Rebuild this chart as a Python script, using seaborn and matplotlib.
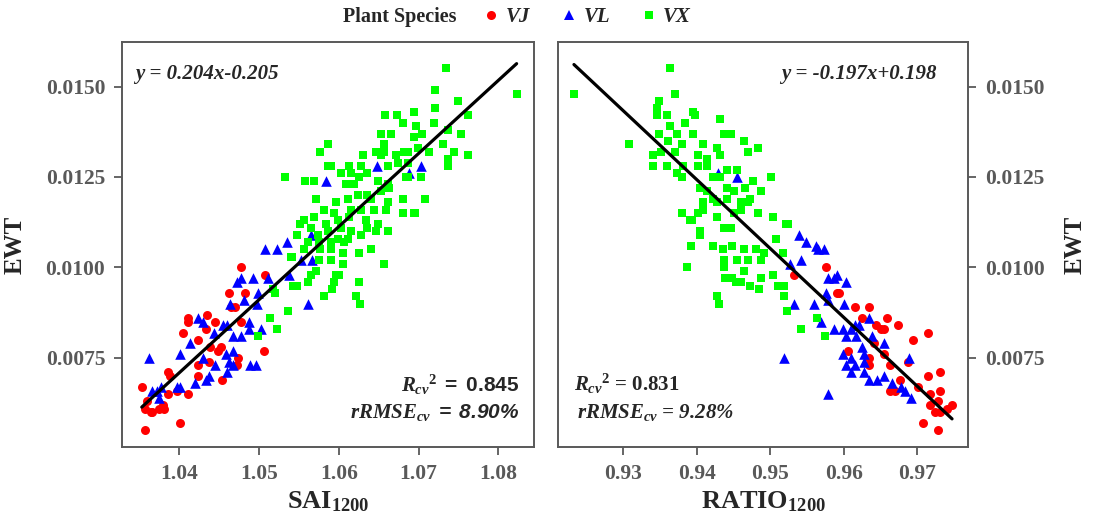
import numpy as np
import pandas as pd
import seaborn as sns
import matplotlib.pyplot as plt
from matplotlib.lines import Line2D
from matplotlib.ticker import FormatStrFormatter, MultipleLocator

# ---- data ----
species = ["VJ", "VL", "VX"]
colors = {"VJ": "#ff0000", "VL": "#0000ff", "VX": "#00ff00"}
markers = {"VJ": "o", "VL": "^", "VX": "s"}
sizes = {"VJ": 42, "VL": 58, "VX": 34}

# left panel: SAI1200 vs EWT
sai_vj_x = [1.0478, 1.0508, 1.0462, 1.0482, 1.0465, 1.0470, 1.0435, 1.0411, 1.0411, 1.0405,
            1.0433, 1.0445, 1.0477, 1.0423, 1.0439, 1.0452, 1.0449, 1.0506, 1.0437, 1.0424,
            1.0474, 1.0473, 1.0386, 1.0389, 1.0423, 1.0453, 1.0353, 1.0386, 1.0397, 1.0411,
            1.0360, 1.0357, 1.0364, 1.0366, 1.0379, 1.0381, 1.0374, 1.0401, 1.0357]
sai_vj_y = [0.0100, 0.0098, 0.0093, 0.0093, 0.0089, 0.0089, 0.0087, 0.0086, 0.0085, 0.0082,
            0.0083, 0.0085, 0.0085, 0.0080, 0.0078, 0.0078, 0.0077, 0.0077, 0.0074, 0.0073,
            0.0075, 0.0073, 0.0071, 0.0070, 0.0070, 0.0069, 0.0067, 0.0065, 0.0066, 0.0065,
            0.0063, 0.0061, 0.0060, 0.0060, 0.0062, 0.0061, 0.0061, 0.0057, 0.0055]

sai_vl_x = [1.0507, 1.0523, 1.0535, 1.0565, 1.0584, 1.0648, 1.0703, 1.0688, 1.0553, 1.0566,
            1.0538, 1.0562, 1.0477, 1.0492, 1.0511, 1.0473, 1.0499, 1.0481, 1.0464, 1.0498,
            1.0423, 1.0430, 1.0455, 1.0460, 1.0487, 1.0487, 1.0502, 1.0443, 1.0468, 1.0477,
            1.0414, 1.0401, 1.0362, 1.0430, 1.0458, 1.0467, 1.0445, 1.0462, 1.0468, 1.0489,
            1.0496, 1.0460, 1.0433, 1.0437, 1.0420, 1.0397, 1.0401, 1.0366, 1.0372, 1.0377,
            1.0374]
sai_vl_y = [0.0105, 0.0105, 0.0107, 0.0109, 0.0124, 0.0128, 0.0128, 0.0126, 0.0102, 0.0102,
            0.0098, 0.0090, 0.0097, 0.0097, 0.0097, 0.0096, 0.0093, 0.0091, 0.0090, 0.0090,
            0.0086, 0.0085, 0.0084, 0.0084, 0.0085, 0.0083, 0.0083, 0.0082, 0.0081, 0.0081,
            0.0079, 0.0076, 0.0075, 0.0075, 0.0076, 0.0077, 0.0073, 0.0074, 0.0073, 0.0073,
            0.0073, 0.0071, 0.0069, 0.0070, 0.0068, 0.0067, 0.0067, 0.0066, 0.0066, 0.0067,
            0.0064]

sai_vx_x = [1.0540, 1.0543, 1.0548, 1.0520, 1.0536, 1.0514, 1.0523, 1.0499,
            1.0577, 1.0630, 1.0647, 1.0657, 1.0590, 1.0613, 1.0628, 1.0662, 1.0674, 1.0687,
            1.0532, 1.0558, 1.0569, 1.0603, 1.0615, 1.0625, 1.0636, 1.0609, 1.0619, 1.0649,
            1.0662, 1.0687, 1.0703, 1.0624, 1.0636, 1.0653, 1.0571, 1.0596, 1.0611, 1.0640,
            1.0662, 1.0681, 1.0708, 1.0581, 1.0594, 1.0615, 1.0628, 1.0644, 1.0659, 1.0681,
            1.0696, 1.0556, 1.0569, 1.0584, 1.0599, 1.0613, 1.0634, 1.0649, 1.0552, 1.0565,
            1.0586, 1.0603, 1.0615, 1.0636, 1.0647, 1.0548, 1.0574, 1.0599, 1.0611, 1.0628,
            1.0662, 1.0561, 1.0575, 1.0590, 1.0606, 1.0556, 1.0577, 1.0590, 1.0605, 1.0625,
            1.0640, 1.0541, 1.0575, 1.0590, 1.0605, 1.0657, 1.0571, 1.0565, 1.0596, 1.0600,
            1.0562, 1.0594, 1.0625, 1.0518, 1.0592, 1.0581, 1.0622, 1.0627,
            1.0735, 1.0823, 1.0721, 1.0750, 1.0721, 1.0658, 1.0673, 1.0694, 1.0762, 1.0681,
            1.0720, 1.0697, 1.0737, 1.0665, 1.0704, 1.0753, 1.0653, 1.0694, 1.0731, 1.0713,
            1.0657, 1.0682, 1.0699, 1.0745, 1.0762, 1.0737, 1.0737, 1.0653, 1.0672, 1.0687,
            1.0684, 1.0663, 1.0694, 1.0587, 1.0587]
sai_vx_y = [0.0103, 0.0095, 0.0095, 0.0093, 0.0088, 0.0086, 0.0083, 0.0081,
            0.0132, 0.0131, 0.0132, 0.0132, 0.0128, 0.0128, 0.0128, 0.0128, 0.0129, 0.0129,
            0.0125, 0.0124, 0.0124, 0.0126, 0.0126, 0.0125, 0.0126, 0.0123, 0.0123, 0.0124,
            0.0123, 0.0125, 0.0125, 0.0120, 0.0120, 0.0121, 0.0119, 0.0118, 0.0119, 0.0119,
            0.0118, 0.0119, 0.0119, 0.0116, 0.0115, 0.0116, 0.0116, 0.0116, 0.0116, 0.0115,
            0.0115, 0.0113, 0.0114, 0.0112, 0.0113, 0.0114, 0.0113, 0.0112, 0.0112, 0.0111,
            0.0110, 0.0111, 0.0110, 0.0111, 0.0110, 0.0109, 0.0109, 0.0108, 0.0108, 0.0109,
            0.0110, 0.0107, 0.0107, 0.0107, 0.0107, 0.0105, 0.0105, 0.0105, 0.0104, 0.0104,
            0.0105, 0.0103, 0.0102, 0.0102, 0.0101, 0.0101, 0.0099, 0.0098, 0.0098, 0.0098,
            0.0096, 0.0096, 0.0096, 0.0094, 0.0094, 0.0092, 0.0092, 0.0090,
            0.0155, 0.0148, 0.0149, 0.0146, 0.0144, 0.0142, 0.0142, 0.0143, 0.0142, 0.0140,
            0.0140, 0.0139, 0.0138, 0.0137, 0.0137, 0.0137, 0.0137, 0.0136, 0.0134, 0.0132,
            0.0134, 0.0132, 0.0133, 0.0132, 0.0131, 0.0130, 0.0128, 0.0131, 0.0131, 0.0132,
            0.0125, 0.0122, 0.0115, 0.0134, 0.0128]

# right panel: RATIO1200 vs EWT
ratio_vj_x = [0.9575, 0.9532, 0.9590, 0.9594, 0.9615, 0.9634, 0.9624, 0.9659, 0.9674, 0.9643,
              0.9650, 0.9655, 0.9714, 0.9694, 0.9641, 0.9655, 0.9606, 0.9634, 0.9687, 0.9634,
              0.9663, 0.9676, 0.9714, 0.9731, 0.9701, 0.9717, 0.9731, 0.9663, 0.9670, 0.9717,
              0.9728, 0.9740, 0.9747, 0.9724, 0.9731, 0.9707, 0.9728]
ratio_vj_y = [0.0100, 0.0098, 0.0093, 0.0093, 0.0089, 0.0089, 0.0086, 0.0086, 0.0084, 0.0084,
              0.0083, 0.0083, 0.0082, 0.0080, 0.0079, 0.0076, 0.0077, 0.0075, 0.0074, 0.0073,
              0.0073, 0.0069, 0.0070, 0.0071, 0.0067, 0.0065, 0.0066, 0.0066, 0.0066, 0.0062,
              0.0063, 0.0061, 0.0062, 0.0060, 0.0060, 0.0057, 0.0055]

ratio_vl_x = [0.9539, 0.9548, 0.9562, 0.9527, 0.9542, 0.9532, 0.9559, 0.9565, 0.9573, 0.9579,
              0.9590, 0.9587, 0.9603, 0.9576, 0.9579, 0.9600, 0.9569, 0.9634, 0.9615, 0.9620,
              0.9586, 0.9599, 0.9610, 0.9603, 0.9617, 0.9638, 0.9655, 0.9624, 0.9627, 0.9599,
              0.9610, 0.9689, 0.9603, 0.9615, 0.9627, 0.9610, 0.9627, 0.9634, 0.9645, 0.9655,
              0.9666, 0.9677, 0.9683, 0.9691, 0.9518, 0.9579, 0.9455, 0.9429]
ratio_vl_y = [0.0109, 0.0107, 0.0106, 0.0101, 0.0102, 0.0090, 0.0090, 0.0105, 0.0105, 0.0097,
              0.0098, 0.0097, 0.0096, 0.0093, 0.0091, 0.0090, 0.0085, 0.0086, 0.0084, 0.0084,
              0.0083, 0.0083, 0.0083, 0.0081, 0.0081, 0.0081, 0.0079, 0.0078, 0.0076, 0.0076,
              0.0075, 0.0075, 0.0073, 0.0073, 0.0074, 0.0071, 0.0071, 0.0069, 0.0069, 0.0070,
              0.0068, 0.0067, 0.0066, 0.0064, 0.0075, 0.0065, 0.0125, 0.0126]

ratio_vx_x = [0.9233, 0.9364, 0.9371, 0.9348, 0.9346, 0.9346, 0.9359, 0.9395, 0.9398, 0.9432,
              0.9364, 0.9384, 0.9349, 0.9373, 0.9395, 0.9437, 0.9446, 0.9464, 0.9308, 0.9361,
              0.9380, 0.9408, 0.9428, 0.9432, 0.9470, 0.9483, 0.9341, 0.9351, 0.9371, 0.9401,
              0.9414, 0.9341, 0.9359, 0.9381, 0.9401, 0.9414, 0.9441, 0.9455, 0.9373, 0.9380,
              0.9422, 0.9432, 0.9477, 0.9466, 0.9405, 0.9414, 0.9441, 0.9450, 0.9408, 0.9428,
              0.9460, 0.9469, 0.9380, 0.9394, 0.9401, 0.9428, 0.9450, 0.9483, 0.9405, 0.9437,
              0.9446, 0.9391, 0.9404, 0.9392, 0.9387, 0.9422, 0.9435, 0.9448, 0.9464, 0.9480,
              0.9491, 0.9437, 0.9455, 0.9470, 0.9487, 0.9437, 0.9464, 0.9439, 0.9448, 0.9460,
              0.9453, 0.9487, 0.9504, 0.9473, 0.9484, 0.9511, 0.9519, 0.9519, 0.9428, 0.9430,
              0.9523, 0.9542, 0.9563, 0.9504, 0.9524, 0.9517, 0.9408, 0.9422, 0.9441, 0.9460,
              0.9473, 0.9487, 0.9521, 0.9507, 0.9574, 0.9501]
ratio_vx_y = [0.0148, 0.0155, 0.0148, 0.0146, 0.0144, 0.0142, 0.0142, 0.0143, 0.0142, 0.0141,
              0.0139, 0.0140, 0.0137, 0.0137, 0.0137, 0.0137, 0.0137, 0.0135, 0.0134, 0.0135,
              0.0134, 0.0134, 0.0133, 0.0131, 0.0132, 0.0133, 0.0131, 0.0132, 0.0132, 0.0131,
              0.0130, 0.0128, 0.0128, 0.0128, 0.0128, 0.0128, 0.0127, 0.0127, 0.0126, 0.0125,
              0.0125, 0.0125, 0.0124, 0.0122, 0.0122, 0.0121, 0.0122, 0.0121, 0.0118, 0.0118,
              0.0118, 0.0118, 0.0115, 0.0113, 0.0115, 0.0114, 0.0115, 0.0115, 0.0110, 0.0111,
              0.0111, 0.0113, 0.0109, 0.0106, 0.0100, 0.0106, 0.0105, 0.0106, 0.0105, 0.0105,
              0.0104, 0.0102, 0.0102, 0.0102, 0.0102, 0.0100, 0.0099, 0.0097, 0.0097, 0.0096,
              0.0096, 0.0097, 0.0098, 0.0095, 0.0094, 0.0095, 0.0095, 0.0092, 0.0092, 0.0090,
              0.0088, 0.0083, 0.0086, 0.0114, 0.0112, 0.0104, 0.0116, 0.0119, 0.0119, 0.0116,
              0.0119, 0.0121, 0.0112, 0.0108, 0.0081, 0.0125]

eq_texts = ["y = 0.204x-0.205", "y = -0.197x+0.198"]

# ---- build tables ----
def make_df(xs, ys):
    rows = []
    for sp, x, y in zip(species, xs, ys):
        rows.append(pd.DataFrame({"x": x, "EWT": y, "Species": sp}))
    return pd.concat(rows, ignore_index=True)

df_sai = make_df([sai_vj_x, sai_vl_x, sai_vx_x], [sai_vj_y, sai_vl_y, sai_vx_y])
df_ratio = make_df([ratio_vj_x, ratio_vl_x, ratio_vx_x], [ratio_vj_y, ratio_vl_y, ratio_vx_y])

sns.set_style("ticks")
plt.rcParams["font.family"] = ["Liberation Serif", "DejaVu Serif"]
plt.rcParams["font.weight"] = "bold"
plt.rcParams["mathtext.fontset"] = "custom"
plt.rcParams["mathtext.rm"] = "Liberation Serif:bold"
plt.rcParams["mathtext.it"] = "Liberation Serif:italic:bold"
plt.rcParams["mathtext.bf"] = "Liberation Serif:bold"
plt.rcParams["mathtext.sf"] = "Liberation Sans:italic:bold"
plt.rcParams["mathtext.tt"] = "Liberation Sans:bold"

gray = "#595959"
fig = plt.figure(figsize=(10.95, 5.17), dpi=100)
ax1 = fig.add_axes([122 / 1095, 70 / 517, 412 / 1095, 405 / 517])
ax2 = fig.add_axes([558 / 1095, 70 / 517, 410 / 1095, 405 / 517])

for ax, df in [(ax1, df_sai), (ax2, df_ratio)]:
    for sp in species:
        sub = df[df.Species == sp]
        sns.scatterplot(data=sub, x="x", y="EWT", color=colors[sp], marker=markers[sp],
                        s=sizes[sp], linewidth=0, ax=ax, legend=False, zorder=2)
    sns.regplot(data=df, x="x", y="EWT", scatter=False, ci=None, truncate=True,
                line_kws=dict(color="black", lw=2.3, zorder=3), ax=ax)
    ax.set_ylim(0.00504, 0.01623)
    ax.yaxis.set_major_locator(MultipleLocator(0.0025))
    ax.yaxis.set_major_formatter(FormatStrFormatter("%.4f"))
    ax.xaxis.set_major_formatter(FormatStrFormatter("%.2f"))
    ax.tick_params(direction="out", length=6, width=1.3, color=gray, labelcolor=gray,
                   labelsize=15.5, pad=6)
    for lab in ax.get_xticklabels() + ax.get_yticklabels():
        lab.set_fontweight("bold")
    for s in ax.spines.values():
        s.set_color(gray)
        s.set_linewidth(1.4)

ax1.set_xlim(1.03282, 1.08448)
ax1.xaxis.set_major_locator(MultipleLocator(0.01))
ax2.set_xlim(0.92113, 0.97687)
ax2.xaxis.set_major_locator(MultipleLocator(0.01))
ax2.yaxis.tick_right()
ax2.yaxis.set_label_position("right")

ax1.set_xlabel(r"SAI$_{\mathbf{1200}}$", fontsize=19, fontweight="bold", labelpad=4)
ax2.set_xlabel(r"RATIO$_{\mathbf{1200}}$", fontsize=19, fontweight="bold", labelpad=4)
ax1.set_ylabel("EWT", fontsize=18, fontweight="bold", labelpad=14)
ax2.set_ylabel("EWT", fontsize=18, fontweight="bold", labelpad=14)

# annotations
ax1.text(0.032, 0.922, eq_texts[0], transform=ax1.transAxes, fontsize=15,
         fontstyle="italic", fontweight="bold", va="center", ha="left")
ax2.text(0.924, 0.922, eq_texts[1], transform=ax2.transAxes, fontsize=15,
         fontstyle="italic", fontweight="bold", va="center", ha="right")
ax1.text(0.964, 0.153, r"$R_{cv}{}^{\mathbf{2}}$ $\mathtt{=\ 0.845}$", transform=ax1.transAxes,
         fontsize=15, ha="right", va="center")
ax1.text(0.964, 0.086, r"$rRMSE_{cv}$ $\mathsf{=\ 8.90\%}$", transform=ax1.transAxes,
         fontsize=15, ha="right", va="center")
ax2.text(0.039, 0.156, r"$R_{cv}{}^{\mathbf{2}}$ = 0.831", transform=ax2.transAxes,
         fontsize=15, ha="left", va="center")
ax2.text(0.046, 0.084, r"$rRMSE_{cv}$ = 9.28%", transform=ax2.transAxes,
         fontsize=15, ha="left", va="center", fontstyle="italic")

# legend
fig.text(343 / 1095, 1 - 17 / 517, "Plant Species", fontsize=14.5, fontweight="bold",
         ha="left", va="center")
handles = [Line2D([], [], linestyle="none", marker=markers[sp], color=colors[sp],
                  markersize=6.5 if sp != "VX" else 5.5, markeredgewidth=0) for sp in species]
fig.legend(handles, species, loc="center left", bbox_to_anchor=(483 / 1095, 1 - 17 / 517),
           ncol=3, frameon=False, handlelength=0.8, handletextpad=0.3, columnspacing=1.45,
           prop=dict(family="Liberation Serif", style="italic", weight="bold", size=15),
           borderaxespad=0, borderpad=0)

fig.savefig("out.png", dpi=100)
